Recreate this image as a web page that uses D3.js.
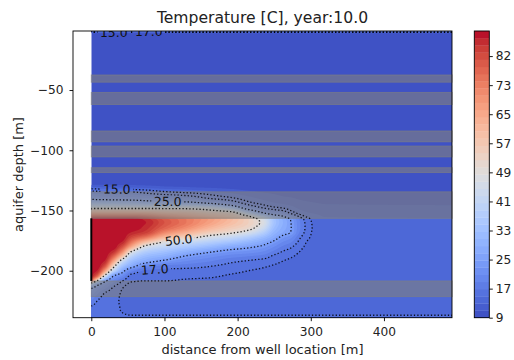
<!DOCTYPE html>
<html>
<head>
<meta charset="utf-8">
<script src="https://cdn.jsdelivr.net/npm/d3@7"></script>
<style>
  body { margin: 0; background: #fff; }
  svg { display: block; font-family: "DejaVu Sans", sans-serif; }
</style>
</head>
<body>
<svg id="chart" width="514" height="360"></svg>
<script>
// ---- data -------------------------------------------------------------
// Distances from the well (m) at which temperature profiles are given.
const distances = [0, 8, 18, 30, 42, 55, 75, 100, 130, 160, 190, 215, 235, 250, 262, 272, 285, 295, 305, 320, 493];
// Depths (m) of the profile samples, top to bottom.
const depths = [-1, -3, -127, -130, -133, -136, -140, -144, -148, -152, -155, -157,
  -160, -164, -168, -172, -176, -180, -184, -188, -192, -196, -200, -204, -208,
  -211, -214, -218, -222, -226, -230, -234, -239];
// Temperature profiles (°C), one per distance, one value per depth.
const temperatureProfiles = [
  [24,10,10, 12.5,16.2,19,23.5,34,48.5,67,81,88.5, 88.5,88.5,88.5,88.5,88.5,88.5,88.5,88.5,88.5,88.5,88.5,88.5, 80,42,26,23,20.5,18.5,16.8,16.0,16.5],
  [24,10,10, 12.4,16.0,18.8,23.2,33.5,48.5,67,81,88.5, 88.5,88.5,88.5,88.5,88.5,88.5,88.5,88.5,88.5,88.5, 87,80,52,28,23,20,18,16.8,16.2,15.9,16.5],
  [24,10,10, 12.3,15.9,18.7,23.0,33.2,48.5,67,81,88.5, 88.5,88.5,88.5,88.5,88.5,88.5,88.5,88.5, 87,82,70,50,28,22.5,20,17.2,16.3,15.8,15.6,15.5,16.5],
  [24,10,10, 12.2,15.8,18.6,22.8,32.8,48.5,67,81,88.5, 88.5,88.5,88.5,88.5,88.5,88.5, 86,79,68,55,42,26,21,18.5,16.8,16,15.6,15.4,15.4,15.4,16.5],
  [24,10,10, 12.1,15.6,18.4,22.6,32.4,48.5,67,81,88.5, 88.5,88.5,88.5,88.5, 87,82,73,60,45,35,28,21.5,17.4,16.1,15.2,14.8,14.7,14.7,14.8,14.9,16.5],
  [24,10,10, 12.0,15.5,18.3,22.5,32.0,48.5,67,81,88.5, 88.5,88.5,87,83,76,66,50,40,33,28,20,16.3,15.4,14.5,13.9,13.6,13.5,13.5,13.5,13.5,16.5],
  [24,10,10, 11.6,15.0,17.3,21.5,30.5,48.5,66,79,86, 87,86,84,76,61,47,38,32,27.5,21,16.6,15.8,15.1,14.2,13.7,13.5,13.5,13.5,13.5,13.5,16.5],
  [24,10,10, 11.0,14.0,16.3,20.5,29.0,48.5,63,74,80, 81,79,73,63,50,41,34,29,24,18.5,16.4,15.6,15.1,14.3,13.8,13.6,13.5,13.5,13.5,13.5,16.5],
  [24,10,10, 10.7,13.3,15.6,19.5,28.0,48.0,61,69,75, 75,72,65,55,44,36,29.5,24.5,21,18,16.3,15.5,14.8,14.1,13.7,13.6,13.5,13.5,13.5,13.5,16.5],
  [24,10,10, 10.4,12.5,14.6,17.0,25.0,45.0,57,64,69, 68,64,57,47.5,39,32,26,22,19.3,17.2,16.2,15.4,14.6,14.0,13.7,13.6,13.5,13.5,13.5,13.5,16.5],
  [24,10,10, 10.2,11.5,13.3,15.6,20.0,35.0,54,59,62, 61,57.5,52,43,35,28,23.5,20,17.5,16.4,15.6,14.8,14.2,13.8,13.6,13.5,13.5,13.5,13.5,13.5,16.5],
  [24,10,10, 10.1,10.8,12.0,13.8,15.8,21.0,38,51,55, 55,53,47,38,31,26,22.5,19,16.8,15.8,15,14.4,14,13.7,13.6,13.5,13.5,13.5,13.5,13.5,16.5],
  [24,10,10, 10.0,10.5,11.3,12.5,14.3,17.0,25,38,46, 48,45,39,32.5,27.5,24,21,18.2,16.2,15.3,14.6,14.1,13.8,13.6,13.5,13.5,13.5,13.5,13.5,13.5,16.5],
  [24,10,10, 10.0,10.3,10.9,11.8,13.2,15.7,21,29,34, 34.5,33,30.5,27.5,24.2,21,18.5,16.5,15.6,14.8,14.2,13.9,13.7,13.6,13.5,13.5,13.5,13.5,13.5,13.5,16.5],
  [24,10,10, 10.0,10.2,10.6,11.4,12.7,15.0,19.5,25.5,28.5, 29,28.3,27,23.8,21,18.6,16.9,15.8,15.0,14.4,14.0,13.7,13.6,13.5,13.5,13.5,13.5,13.5,13.5,13.5,16.5],
  [24,10,10, 10.0,10.1,10.5,11.2,12.3,14.0,16.5,21.0,24.8, 25.4,25.5,25.1,22,19.5,17.5,16.2,15.3,14.6,14.2,13.9,13.7,13.6,13.5,13.5,13.5,13.5,13.5,13.5,13.5,16.5],
  [24,10,10, 10.0,10.0,10.3,10.8,11.6,12.6,14.2,16.6,18.5, 19.2,19.3,18.8,17.4,16.4,15.6,15.0,14.5,14.2,13.9,13.7,13.6,13.5,13.5,13.5,13.5,13.5,13.5,13.5,13.5,16.5],
  [24,10,10, 10.0,10.0,10.2,10.6,11.3,12.0,13.2,14.6,15.8, 16.2,16.3,16.1,15.6,14.9,14.6,14.3,14.1,13.9,13.7,13.6,13.5,13.5,13.5,13.5,13.5,13.5,13.5,13.5,13.5,16.5],
  [24,10,10, 10.0,10.0,10.2,10.5,11.1,11.8,12.8,13.8,14.2, 14.5,14.6,14.5,14.3,14.1,13.9,13.8,13.7,13.6,13.6,13.5,13.5,13.5,13.5,13.5,13.5,13.5,13.5,13.5,13.5,16.5],
  [24,10,10, 10.0,10.0,10.1,10.4,10.9,11.5,12.3,12.9,13.3, 13.6,13.6,13.6,13.5,13.5,13.5,13.5,13.5,13.5,13.5,13.5,13.5,13.5,13.5,13.5,13.5,13.5,13.5,13.5,13.5,16.5],
  [24,10,10, 10.0,10.0,10.1,10.3,10.8,11.3,12.0,12.6,13.2, 13.5,13.5,13.5,13.5,13.5,13.5,13.5,13.5,13.5,13.5,13.5,13.5,13.5,13.5,13.5,13.5,13.5,13.5,13.5,13.5,16.5]
];
// Clay layers (top, bottom depth in m) and the well screen interval.
const clayTops    = [-37.5, -52, -84, -96.5, -114.5, -134.5, -208.5];
const clayBottoms = [-43.5, -62, -93, -105.5, -118.5, -156.5, -221.5];
const wellScreen = [-156.5, -208.5];
// Isotherms drawn as lines, and where their labels sit (distance, depth).
const lineLevels = [15, 17, 25, 50];
const labelLevels    = [15, 17, 15, 25, 50, 17];
const labelDistances = [31, 78, 35, 104, 119, 87];
const labelDepths    = [-2, -2, -132, -142.5, -174, -198];
// Axis ticks.
const xTicks = [0, 100, 200, 300, 400];
const yTicks = [-50, -100, -150, -200];
const cbTickValues = [9, 17.11, 25.22, 33.33, 41.44, 49.56, 57.67, 65.78, 73.89, 82];
const cbTickLabels = ["9", "17", "25", "33", "41", "49", "57", "65", "73", "82"];
const tMin = 9, tMax = 89, tStep = 2;

// ---- colormap (diverging cool-warm) ----------------------------------
const coolwarm = [[59,76,192],[68,90,204],[77,104,215],[87,117,225],[98,130,234],[108,142,241],
  [119,154,247],[130,165,251],[141,176,254],[152,185,255],[163,194,255],[174,201,253],[184,208,249],
  [194,213,244],[204,217,238],[213,219,230],[221,221,221],[229,216,209],[236,211,197],[241,204,184],
  [245,196,172],[247,187,160],[247,177,148],[247,166,135],[244,154,123],[241,141,111],[236,127,99],
  [229,112,88],[222,96,77],[213,80,66],[203,62,56],[192,40,47],[180,4,38]];
const cmap = d3.piecewise(d3.interpolateRgb, coolwarm.map(c => d3.rgb(c[0], c[1], c[2])));
const colorOf = v => cmap(Math.max(0, Math.min(1, (v - tMin) / (tMax - tMin))));

// ---- layout -------------------------------------------------------------
const svg = d3.select("#chart");
const x = d3.scaleLinear().domain([-25, 493]).range([73, 452]);
const y = d3.scaleLinear().domain([-239, -1]).range([317.7, 31]);
const X0 = x(0), X1 = x(493), Y0 = y(-1), Y1 = y(-239);

// ---- smooth monotone interpolation of the profile table ---------------
function monotone(xs, ys) {
  const n = xs.length, h = [], s = [], m = new Array(n);
  for (let i = 0; i < n - 1; i++) { h[i] = xs[i + 1] - xs[i]; s[i] = (ys[i + 1] - ys[i]) / h[i]; }
  m[0] = s[0]; m[n - 1] = s[n - 2];
  for (let i = 1; i < n - 1; i++) {
    if (s[i - 1] * s[i] <= 0) m[i] = 0;
    else {
      const w1 = 2 * h[i] + h[i - 1], w2 = h[i] + 2 * h[i - 1];
      m[i] = (w1 + w2) / (w1 / s[i - 1] + w2 / s[i]);
    }
  }
  return v => {
    let k = d3.bisectRight(xs, v) - 1;
    k = Math.max(0, Math.min(n - 2, k));
    const t = Math.max(0, Math.min(1, (v - xs[k]) / h[k])), t2 = t * t, t3 = t2 * t;
    return (2 * t3 - 3 * t2 + 1) * ys[k] + (t3 - 2 * t2 + t) * h[k] * m[k]
         + (-2 * t3 + 3 * t2) * ys[k + 1] + (t3 - t2) * h[k] * m[k + 1];
  };
}

const nx = Math.round(X1 - X0), ny = Math.round(Y1 - Y0);
const sx = (X1 - X0) / nx, sy = (Y1 - Y0) / ny;
const depthAsc = depths.slice().reverse();
const colFns = temperatureProfiles.map(p => monotone(depthAsc, p.slice().reverse()));
const field = new Float64Array(nx * ny);
for (let j = 0; j < ny; j++) {
  const d = y.invert(Y0 + (j + 0.5) * sy);
  const row = monotone(distances, colFns.map(f => f(d)));
  for (let i = 0; i < nx; i++) field[j * nx + i] = row(x.invert(X0 + (i + 0.5) * sx));
}

// ---- filled isotherm bands ---------------------------------------------
const defs = svg.append("defs");
defs.append("clipPath").attr("id", "dataClip").append("rect")
  .attr("x", X0).attr("y", Y0).attr("width", X1 - X0).attr("height", Y1 - Y0);

const contours = d3.contours().size([nx, ny]);
const gridPath = d3.geoPath(d3.geoTransform({
  point(u, v) { this.stream.point(X0 + u * sx, Y0 + v * sy); }
}));
const fillLevels = d3.range(tMin, tMax - 0.001, tStep);
const gFill = svg.append("g").attr("clip-path", "url(#dataClip)");
fillLevels.forEach(t => {
  gFill.append("path").attr("d", gridPath(contours.contour(field, t)))
    .attr("fill", colorOf(t + tStep / 2)).attr("stroke", "none");
});

// ---- clay layers --------------------------------------------------------
svg.append("g").selectAll("rect").data(clayTops).join("rect")
  .attr("x", X0).attr("width", X1 - X0)
  .attr("y", d => y(d)).attr("height", (d, i) => y(clayBottoms[i]) - y(d))
  .attr("fill", "#808080").attr("fill-opacity", 0.6)
  .attr("stroke", "#808080").attr("stroke-opacity", 0.6).attr("stroke-width", 1);

// ---- isotherm lines -----------------------------------------------------
function isolines(level) {
  const geo = contours.contour(field, level), eps = 1e-9, lines = [];
  const onEdge = (p, q) => (p[0] <= eps && q[0] <= eps) || (p[0] >= nx - eps && q[0] >= nx - eps) ||
                           (p[1] <= eps && q[1] <= eps) || (p[1] >= ny - eps && q[1] >= ny - eps);
  geo.coordinates.forEach(poly => poly.forEach(ring => {
    const parts = []; let cur = null, firstOpen = false, lastOpen = false;
    for (let k = 0; k < ring.length - 1; k++) {
      const p = ring[k], q = ring[k + 1];
      if (onEdge(p, q)) { cur = null; continue; }
      if (k === 0) firstOpen = true;
      if (k === ring.length - 2) lastOpen = true;
      if (!cur) { cur = [p]; parts.push(cur); }
      cur.push(q);
    }
    if (parts.length > 1 && firstOpen && lastOpen) {
      const last = parts.pop();
      parts[0] = last.concat(parts[0].slice(1));
    }
    parts.forEach(pt => lines.push(pt.map(([u, v]) => [X0 + u * sx, Y0 + v * sy])));
  }));
  return lines;
}
const linesByLevel = new Map(lineLevels.map(l => [l, isolines(l)]));

const mask = defs.append("mask").attr("id", "labelGaps").attr("maskUnits", "userSpaceOnUse")
  .attr("x", 0).attr("y", 0).attr("width", 514).attr("height", 360);
mask.append("rect").attr("width", 514).attr("height", 360).attr("fill", "#fff");

const gLinesClip = svg.append("g").attr("clip-path", "url(#dataClip)");
const gLines = gLinesClip.append("g").attr("mask", "url(#labelGaps)");
const lineGen = d3.line();
lineLevels.forEach(l => {
  linesByLevel.get(l).forEach(pts => {
    gLines.append("path").attr("d", lineGen(pts)).attr("fill", "none")
      .attr("stroke", "#000").attr("stroke-opacity", 0.85).attr("stroke-width", 1.3)
      .attr("stroke-dasharray", "1.3,2.1");
  });
});

// ---- isotherm labels ----------------------------------------------------
const gLabels = gLinesClip.append("g");
labelLevels.forEach((level, i) => {
  const ax = x(labelDistances[i]), ay = y(labelDepths[i]);
  let best = null, bestD = Infinity;
  linesByLevel.get(level).forEach(pts => pts.forEach((p, k) => {
    const dd = (p[0] - ax) ** 2 + (p[1] - ay) ** 2;
    if (dd < bestD) { bestD = dd; best = { pts, k }; }
  }));
  if (!best) return;
  const { pts, k } = best, p = pts[k];
  const a = pts[Math.max(0, k - 6)], b = pts[Math.min(pts.length - 1, k + 6)];
  let ang = Math.atan2(b[1] - a[1], b[0] - a[0]) * 180 / Math.PI;
  if (ang > 90) ang -= 180;
  if (ang < -90) ang += 180;
  const tf = `translate(${p[0]},${p[1]}) rotate(${ang})`;
  const txt = gLabels.append("text").attr("transform", tf)
    .attr("text-anchor", "middle").attr("dy", "0.36em")
    .attr("font-size", 12.4).attr("fill", "#111").text(d3.format(".1f")(level));
  const w = txt.node().getComputedTextLength() + 5;
  mask.append("rect").attr("transform", tf).attr("x", -w / 2).attr("y", -6)
    .attr("width", w).attr("height", 12).attr("fill", "#000");
});

// ---- well screen ----------------------------------------------------------
svg.append("line").attr("x1", x(0)).attr("x2", x(0))
  .attr("y1", y(wellScreen[0])).attr("y2", y(wellScreen[1]))
  .attr("stroke", "#000").attr("stroke-width", 2);

// ---- axes ---------------------------------------------------------------
svg.append("rect").attr("x", 73).attr("y", 31).attr("width", 379).attr("height", 286.7)
  .attr("fill", "none").attr("stroke", "#000").attr("stroke-width", 0.9);

const xAxis = svg.append("g").attr("transform", `translate(0,${Y1})`)
  .call(d3.axisBottom(x).tickValues(xTicks).tickSize(3.5).tickPadding(6.5).tickFormat(d3.format("d")));
const yAxis = svg.append("g").attr("transform", "translate(73,0)")
  .call(d3.axisLeft(y).tickValues(yTicks).tickSize(3.5).tickPadding(6).tickFormat(d3.format("d")));
[xAxis, yAxis].forEach(g => {
  g.select(".domain").remove();
  g.selectAll(".tick line").attr("stroke", "#000").attr("stroke-width", 0.9);
  g.selectAll(".tick text").attr("font-family", "DejaVu Sans").attr("font-size", 12.2).attr("fill", "#222");
});

svg.append("text").attr("x", 262.5).attr("y", 22.5).attr("text-anchor", "middle")
  .attr("font-size", 15.6).attr("fill", "#222").text("Temperature [C], year:10.0");
svg.append("text").attr("x", 262.5).attr("y", 354).attr("text-anchor", "middle")
  .attr("font-size", 13).attr("fill", "#222").text("distance from well location [m]");
svg.append("text").attr("transform", "translate(23,174.5) rotate(-90)").attr("text-anchor", "middle")
  .attr("font-size", 13).attr("fill", "#222").text("aquifer depth [m]");

// ---- colorbar -------------------------------------------------------------
const cbX = 474.3, cbW = 15;
const cbY = d3.scaleLinear().domain([tMin, tMax]).range([317.7, 31]);
const gCb = svg.append("g");
gCb.selectAll("rect.band").data(fillLevels).join("rect").attr("class", "band")
  .attr("x", cbX).attr("width", cbW)
  .attr("y", t => cbY(t + tStep)).attr("height", t => cbY(t) - cbY(t + tStep) + 0.3)
  .attr("fill", t => colorOf(t + tStep / 2));
gCb.append("rect").attr("x", cbX).attr("y", cbY(tMax)).attr("width", cbW)
  .attr("height", cbY(tMin) - cbY(tMax)).attr("fill", "none").attr("stroke", "#000").attr("stroke-width", 0.9);
const cbAxis = gCb.append("g").attr("transform", `translate(${cbX + cbW},0)`)
  .call(d3.axisRight(cbY).tickValues(cbTickValues).tickSize(3.5).tickPadding(3)
    .tickFormat((d, i) => cbTickLabels[i]));
cbAxis.select(".domain").remove();
cbAxis.selectAll(".tick line").attr("stroke", "#000").attr("stroke-width", 0.9);
cbAxis.selectAll(".tick text").attr("font-family", "DejaVu Sans").attr("font-size", 12.2).attr("fill", "#222");
</script>
</body>
</html>
